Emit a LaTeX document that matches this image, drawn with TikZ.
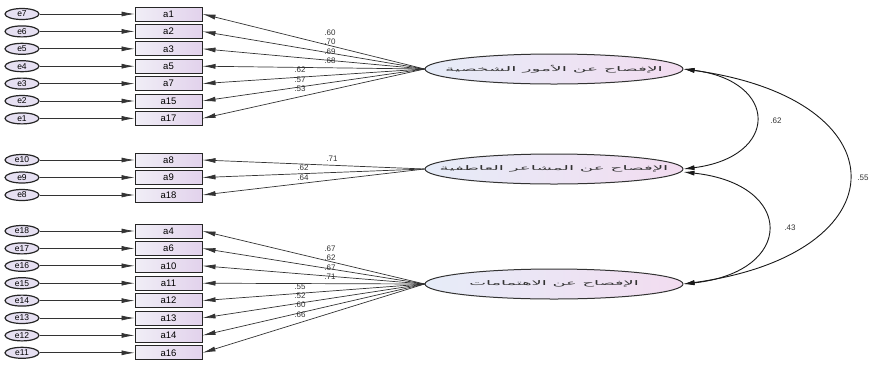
\documentclass[tikz,border=0pt]{standalone}
\usepackage{fontspec}
\setmainfont{Liberation Sans}
\newfontfamily\arabicfont[Script=Arabic]{DejaVu Sans}
\TeXXeTstate=1
\usetikzlibrary{arrows.meta,shapes.geometric}
\definecolor{errfill}{HTML}{E6E0F2}
\definecolor{rectL}{HTML}{F0EEF6}
\definecolor{rectR}{HTML}{E2D2EC}
\definecolor{latL}{HTML}{E6ECF8}
\definecolor{latR}{HTML}{F2DCF0}
\newcommand{\arlabel}[2]{\makebox[0pt]{\scalebox{#1}[1]{\arabicfont\fontsize{6.5}{6.5}\selectfont #2}}}
\begin{document}
\begin{tikzpicture}[x=1pt,y=-1pt,
 err/.style={ellipse, draw=black!85, line width=1.2pt, fill=errfill, minimum width=34pt, minimum height=11pt, inner sep=0pt, font=\fontsize{8.5}{8.5}\selectfont},
 obs/.style={rectangle, draw=black!85, line width=1pt, left color=rectL, right color=rectR, minimum width=67pt, minimum height=14pt, inner sep=0pt, font=\fontsize{9.5}{9.5}\selectfont},
 lat/.style={ellipse, draw=black!80, line width=1pt, left color=latL, right color=latR, minimum width=258pt, minimum height=30pt, inner sep=0pt, text=black!80},
 arr/.style={-{Latex[length=13pt,width=5pt]}, draw=black!80, line width=0.7pt},
 carr/.style={{Latex[length=11pt,width=5pt]}-{Latex[length=11pt,width=5pt]}, draw=black!90, line width=0.9pt},
 lbl/.style={font=\fontsize{8}{8}\selectfont, text=black!80, inner sep=0pt},
]
\useasboundingbox (0,0) rectangle (875,365);

% latent variables
\node[lat] (L1) at (554,69) {\arlabel{2.87}{\beginR الإفصاح عن الأمور الشخصية\endR}};
\node[lat] (L2) at (554,169) {\arlabel{2.82}{\beginR الإفصاح عن المشاعر العاطفية\endR}};
\node[lat] (L3) at (554,284) {\arlabel{2.75}{\beginR الإفصاح عن الاهتمامات\endR}};

% observed + errors
\foreach \a/\e/\y/\L in {a1/e7/14/L1, a2/e6/31.4/L1, a3/e5/48.8/L1, a5/e4/66.2/L1, a7/e3/83.6/L1, a15/e2/101/L1, a17/e1/118.4/L1,
  a8/e10/160/L2, a9/e9/177.5/L2, a18/e8/195/L2,
  a4/e18/231/L3, a6/e17/248.4/L3, a10/e16/265.8/L3, a11/e15/283.2/L3, a12/e14/300.6/L3, a13/e13/318/L3, a14/e12/335.4/L3, a16/e11/352.8/L3}{
  \node[obs] (\a) at (168.5,\y) {\a};
  \node[err] (\e) at (22,\y) {\e};
  \draw[arr] (\e.east) -- (\a.west);
  \draw[arr] (\L.west) -- (\a.east);
}

% loading labels
\foreach \t/\x/\y in {.60/330/33, .70/330/42, .69/330/52, .68/330/61, .62/300/70, .57/300/80, .53/300/89,
  .71/332/159, .62/303/168, .64/303/178,
  .67/330/249, .62/330/258, .67/330/268, .71/330/277, .55/300/287, .52/300/296, .60/300/305, .66/300/315}{
  \node[lbl] at (\x,\y) {\t};
}

% covariances
\draw[carr] (L1.east) .. controls +(96,12) and +(96,-12) .. (L2.east);
\draw[carr] ([yshift=-3pt]L2.east) .. controls +(112,12) and +(112,-12) .. (L3.east);
\draw[carr] (L1.east) .. controls +(220,30) and +(220,-30) .. (L3.east);
\node[lbl] (c1) at (776,121) {.62};
\node[lbl] (c2) at (790,228) {.43};
\node[lbl] (c3) at (863,178) {.55};
\end{tikzpicture}
\end{document}
